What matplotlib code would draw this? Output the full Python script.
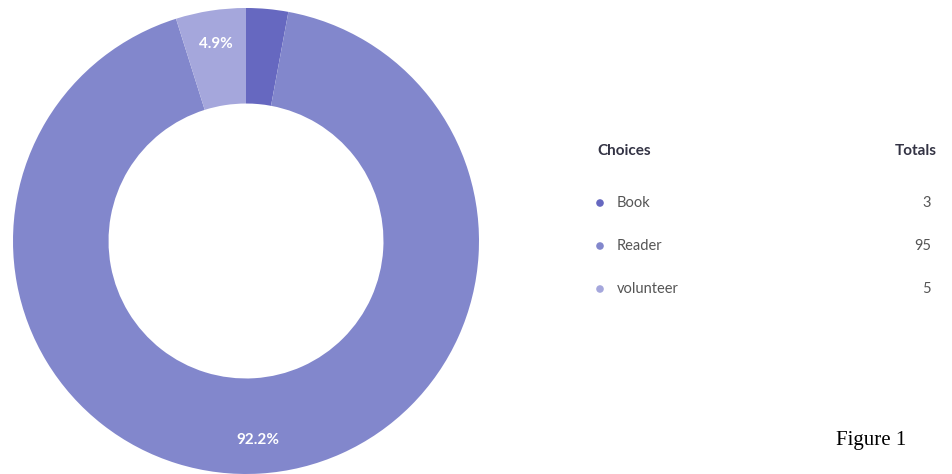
import numpy as np
import matplotlib.pyplot as plt

# Survey results
choices = ['Book', 'Reader', 'volunteer']
totals = [3, 95, 5]
slice_colors = ['#6668c0', '#8287cc', '#a5a7dc']

plt.rcParams['font.family'] = ['Lato', 'DejaVu Sans']

fig = plt.figure(figsize=(9.52, 4.74), dpi=100)

# donut chart, pixel box from the reference: centre (246, 241), radius 233
W, H = 952, 474
cx, cy, r = 246, 241, 233
ax = fig.add_axes([(cx - r) / W, (H - cy - r) / H, 2 * r / W, 2 * r / H])
share = [t / sum(totals) * 100 for t in totals]
wedges, _ = ax.pie(totals, colors=slice_colors, startangle=90, counterclock=False,
                   radius=1, wedgeprops=dict(width=0.41, linewidth=0))
ax.set_xlim(-1, 1)
ax.set_ylim(-1, 1)
ax.axis('off')

# percent labels inside the ring (small slice gets none)
for w, p in zip(wedges, share):
    if p < 4:
        continue
    ang = np.deg2rad((w.theta1 + w.theta2) / 2)
    rr = 0.855
    ax.text(rr * np.cos(ang), rr * np.sin(ang), f'{p:.1f}%', color='white',
            fontsize=11, fontweight='bold', ha='center', va='center')

# legend table drawn in pixel coordinates
lax = fig.add_axes([0, 0, 1, 1])
lax.set_xlim(0, W)
lax.set_ylim(H, 0)
lax.axis('off')
lax.text(597, 151, 'Choices', fontsize=11, fontweight='bold', color='#333344',
         ha='left', va='center')
lax.text(937, 151, 'Totals', fontsize=11, fontweight='bold', color='#333344',
         ha='right', va='center')
rows_y = [203, 246, 289]
for name, tot, col, y in zip(choices, totals, slice_colors, rows_y):
    lax.scatter([600], [y], s=30, color=col, edgecolors='none')
    lax.text(617, y, name, fontsize=10.5, color='#555555', ha='left', va='center')
    lax.text(931, y, str(tot), fontsize=10.5, color='#555555', ha='right', va='center')

lax.text(836, 441, 'Figure 1', fontsize=15, family=['Liberation Serif', 'DejaVu Serif'],
         color='black', ha='left', va='center')

fig.savefig('out.png', dpi=100, facecolor='white')
